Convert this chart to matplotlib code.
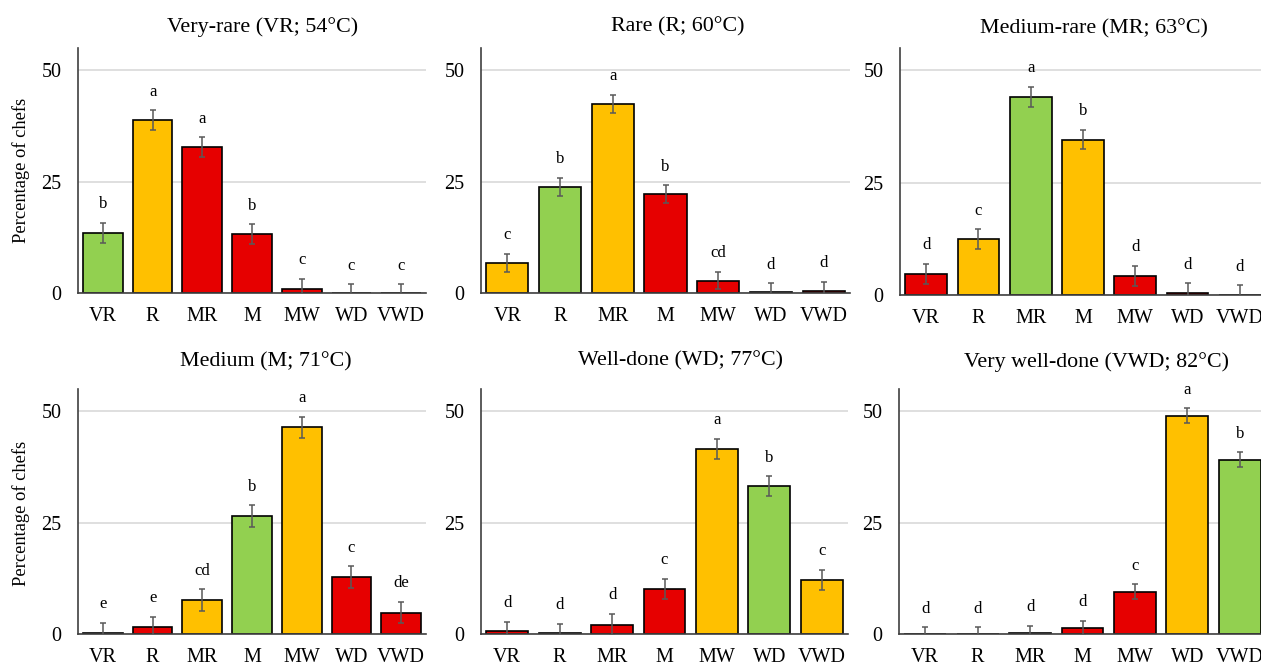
import matplotlib
matplotlib.use('Agg')
import matplotlib.pyplot as plt

plt.rcParams['font.family'] = ['Liberation Serif', 'DejaVu Serif']

categories = ['VR', 'R', 'MR', 'M', 'MW', 'WD', 'VWD']

titles = ['Very-rare (VR; 54°C)', 'Rare (R; 60°C)', 'Medium-rare (MR; 63°C)',
          'Medium (M; 71°C)', 'Well-done (WD; 77°C)', 'Very well-done (VWD; 82°C)']

# percentage of chefs per panel
vals_vr = [13.5, 38.8, 32.8, 13.2, 1.0, 0.0, 0.0]
vals_r = [6.8, 23.8, 42.5, 22.2, 2.8, 0.2, 0.5]
vals_mr = [4.7, 12.4, 44.1, 34.6, 4.3, 0.4, 0.0]
vals_m = [0.2, 1.5, 7.6, 26.5, 46.4, 12.8, 4.8]
vals_wd = [0.6, 0.15, 2.1, 10.1, 41.5, 33.2, 12.1]
vals_vwd = [0.0, 0.0, 0.2, 1.35, 9.5, 49.0, 39.1]

err_vr = [2.2, 2.2, 2.2, 2.2, 2.2, 2.0, 2.0]
err_r = [2.0, 2.0, 2.0, 2.0, 2.0, 2.0, 2.0]
err_mr = [2.2, 2.2, 2.2, 2.2, 2.2, 2.2, 2.2]
err_m = [2.3, 2.3, 2.4, 2.4, 2.4, 2.4, 2.4]
err_wd = [2.2, 2.2, 2.4, 2.3, 2.3, 2.2, 2.3]
err_vwd = [1.5, 1.5, 1.7, 1.6, 1.7, 1.65, 1.65]

letters_vr = ['b', 'a', 'a', 'b', 'c', 'c', 'c']
letters_r = ['c', 'b', 'a', 'b', 'cd', 'd', 'd']
letters_mr = ['d', 'c', 'a', 'b', 'd', 'd', 'd']
letters_m = ['e', 'e', 'cd', 'b', 'a', 'c', 'de']
letters_wd = ['d', 'd', 'd', 'c', 'a', 'b', 'c']
letters_vwd = ['d', 'd', 'd', 'd', 'c', 'a', 'b']

G = '#92D050'
Y = '#FFC000'
R = '#E60000'
cols_vr = [G, Y, R, R, R, R, R]
cols_r = [Y, G, Y, R, R, R, R]
cols_mr = [R, Y, G, Y, R, R, R]
cols_m = [R, R, Y, G, Y, R, R]
cols_wd = [R, R, R, R, Y, G, Y]
cols_vwd = [R, R, R, R, R, Y, G]

panels = [
    (vals_vr, err_vr, letters_vr, cols_vr),
    (vals_r, err_r, letters_r, cols_r),
    (vals_mr, err_mr, letters_mr, cols_mr),
    (vals_m, err_m, letters_m, cols_m),
    (vals_wd, err_wd, letters_wd, cols_wd),
    (vals_vwd, err_vwd, letters_vwd, cols_vwd),
]

W, H = 1261, 664
fig = plt.figure(figsize=(W / 100, H / 100), dpi=100)

# axes boxes in pixels: left, right, top(y=55), bottom(y=0)
boxes = [(78, 426, 48, 293), (481, 850, 48, 293), (900, 1266, 48, 295),
         (78, 426, 389, 634), (481, 848, 389, 634), (899, 1266, 389, 634)]
title_pos = [(263, 27), (678, 27), (1094, 29), (266, 362), (680, 361), (1097, 362)]

for i, (vals, errs, lets, cols) in enumerate(panels):
    l, r, t, b = boxes[i]
    ax = fig.add_axes([l / W, 1 - b / H, (r - l) / W, (b - t) / H])
    x = range(len(categories))
    ax.bar(x, vals, width=0.8, color=cols, edgecolor='black', linewidth=1.2, zorder=2)
    ax.errorbar(x, vals, yerr=errs, fmt='none', ecolor='#595959', elinewidth=1.1,
                capsize=2.5, capthick=1.1, zorder=3)
    for xi, v, e, s in zip(x, vals, errs, lets):
        ax.annotate(s, (xi, v + e), xytext=(0, 10.5), textcoords='offset points',
                    ha='center', va='baseline', fontsize=12)
    ax.set_xlim(-0.5, 6.5)
    ax.set_ylim(0, 55)
    ax.set_yticks([0, 25, 50])
    ax.set_xticks(list(x))
    ax.set_xticklabels(categories)
    ax.tick_params(length=0, labelsize=14.5)
    ax.tick_params(axis='y', pad=12)
    ax.tick_params(axis='x', pad=10)
    ax.yaxis.grid(True, color='#D9D9D9', linewidth=1.2, zorder=0)
    ax.set_axisbelow(True)
    for sp in ['top', 'right']:
        ax.spines[sp].set_visible(False)
    for sp in ['left', 'bottom']:
        ax.spines[sp].set_color('#404040')
        ax.spines[sp].set_linewidth(1.2)
    tx, ty = title_pos[i]
    fig.text(tx / W, 1 - ty / H, titles[i], ha='center', va='center', fontsize=15.8)

fig.text(21 / W, 1 - 170 / H, 'Percentage of chefs', rotation=90, ha='center', va='center', fontsize=13.3)
fig.text(21 / W, 1 - 513 / H, 'Percentage of chefs', rotation=90, ha='center', va='center', fontsize=13.3)

fig.savefig('out.png', dpi=100)
